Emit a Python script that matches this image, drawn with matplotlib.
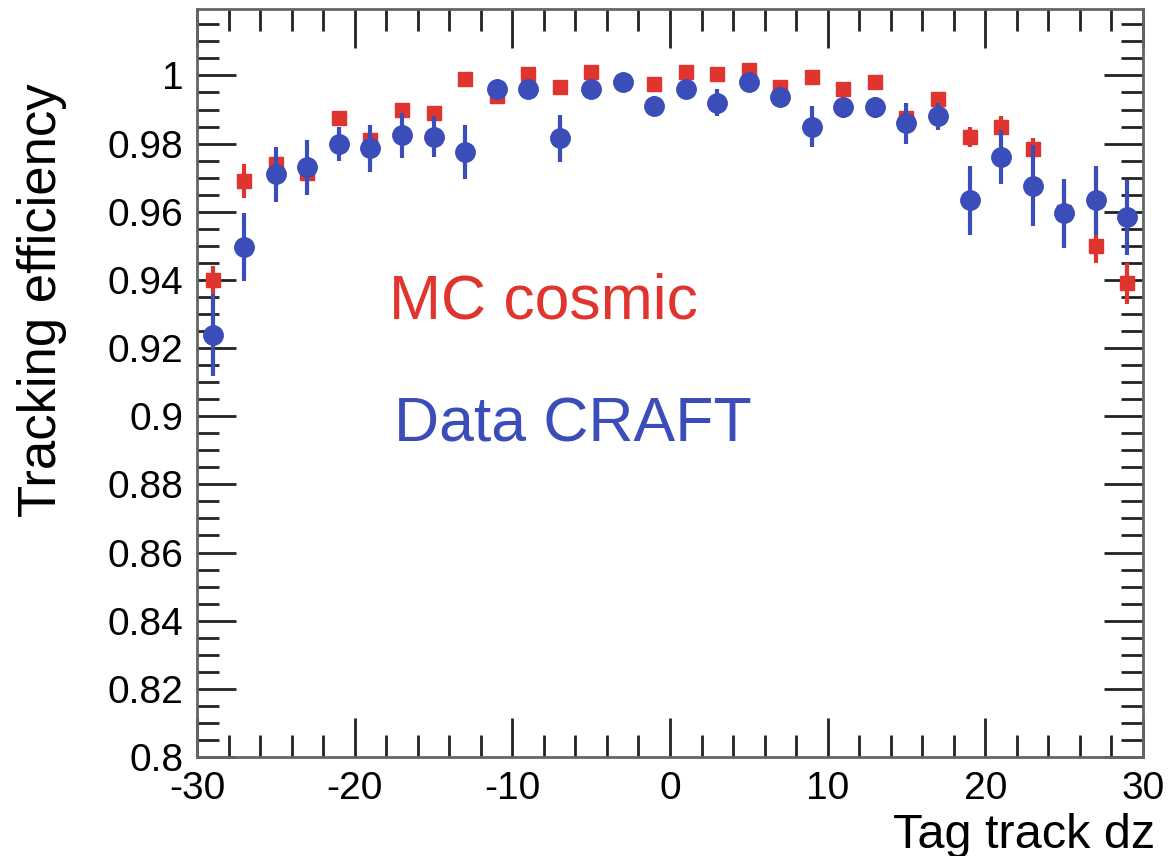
import numpy as np
import matplotlib
matplotlib.use("Agg")
import matplotlib.pyplot as plt
from matplotlib.ticker import MultipleLocator

plt.rcParams['font.family'] = ['Liberation Sans', 'DejaVu Sans']
plt.rcParams['axes.unicode_minus'] = False

# bin centres of tag track dz
dz = [-29, -27, -25, -23, -21, -19, -17, -15, -13, -11, -9, -7, -5, -3, -1,
      1, 3, 5, 7, 9, 11, 13, 15, 17, 19, 21, 23, 25, 27, 29]

mc_eff = [0.940, 0.969, 0.974, 0.9715, 0.9875, 0.981, 0.990, 0.989, 0.999, 0.994,
          1.0005, 0.9965, 1.001, 0.998, 0.9975, 1.001, 1.0003, 1.0015, 0.9965, 0.9994,
          0.996, 0.998, 0.9875, 0.993, 0.982, 0.985, 0.9785, 0.960, 0.950, 0.939]
mc_err = [0.004, 0.005, 0.002, 0.002, 0.002, 0.002, 0.002, 0.002, 0.001, 0.001,
          0.001, 0.001, 0.001, 0.001, 0.001, 0.001, 0.001, 0.001, 0.001, 0.001,
          0.001, 0.001, 0.002, 0.002, 0.003, 0.003, 0.003, 0.003, 0.005, 0.006]

data_eff = [0.9238, 0.9496, 0.971, 0.973, 0.980, 0.9786, 0.9824, 0.982, 0.9775, 0.996,
            0.996, 0.9815, 0.996, 0.998, 0.991, 0.996, 0.992, 0.998, 0.9936, 0.985,
            0.9906, 0.9906, 0.986, 0.988, 0.9633, 0.976, 0.9677, 0.9595, 0.9633, 0.9584]
data_err = [0.012, 0.010, 0.008, 0.008, 0.005, 0.007, 0.0065, 0.006, 0.008, 0.002,
            0.002, 0.007, 0.002, 0.001, 0.003, 0.002, 0.004, 0.001, 0.003, 0.006,
            0.003, 0.003, 0.006, 0.004, 0.010, 0.008, 0.012, 0.010, 0.010, 0.011]

RED = '#e0342e'
BLUE = '#3a4db8'

fig = plt.figure(figsize=(11.73, 8.56), dpi=100)
ax = fig.add_axes([0.168, 0.1157, 0.8064, 0.8738])

ax.errorbar(dz, mc_eff, yerr=mc_err, fmt='s', color=RED, ms=10, elinewidth=3,
            capsize=0, zorder=2)
ax.errorbar(dz, data_eff, yerr=data_err, fmt='o', color=BLUE, ms=14, elinewidth=3,
            capsize=0, zorder=3)

ax.set_xlim(-30, 30)
ax.set_ylim(0.8, 1.0195)

ax.xaxis.set_major_locator(MultipleLocator(10))
ax.xaxis.set_minor_locator(MultipleLocator(2))
ax.yaxis.set_minor_locator(MultipleLocator(0.005))
ax.set_yticks(np.arange(0.8, 1.001, 0.02))
ax.set_yticklabels(['0.8', '0.82', '0.84', '0.86', '0.88', '0.9', '0.92', '0.94',
                    '0.96', '0.98', '1'])

ax.tick_params(which='both', direction='in', top=True, right=True,
               color='#222222', width=2)
ax.tick_params(which='major', length=28, labelsize=28, pad=10)
ax.tick_params(which='minor', length=16)
for s in ax.spines.values():
    s.set_color('#666666')
    s.set_linewidth(2)

ax.set_ylabel('Tracking efficiency', fontsize=38)
ax.yaxis.set_label_coords(-0.138, 0.611)
ax.set_xlabel('Tag track dz', fontsize=35, ha='right')
ax.xaxis.set_label_coords(1.013, -0.075)

ax.text(-17.8, 0.9335, 'MC cosmic', color=RED, fontsize=45, va='center')
ax.text(-17.5, 0.8975, 'Data CRAFT', color=BLUE, fontsize=45, va='center')

fig.savefig('out.png', dpi=100)
